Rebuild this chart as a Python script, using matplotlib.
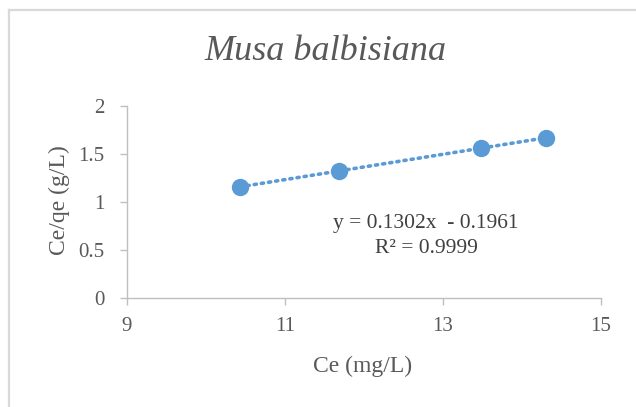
import numpy as np
import matplotlib.pyplot as plt
from matplotlib.lines import Line2D

# data
ce = [10.43, 11.68, 13.48, 14.3]        # Ce (mg/L)
ce_qe = [1.16, 1.32, 1.56, 1.67]        # Ce/qe (g/L)
x_ticks = [9, 11, 13, 15]
y_ticks = [0, 0.5, 1, 1.5, 2]
y_tick_labels = ["0", "0.5", "1", "1.5", "2"]
eq_text = "y = 0.1302x  - 0.1961"
r2_text = "R² = 0.9999"

blue = "#5B9BD5"
grey_text = "#595959"
axis_grey = "#BFBFBF"

plt.rcParams['font.family'] = ['Liberation Serif', 'DejaVu Serif']

fig = plt.figure(figsize=(6.36, 4.07), dpi=100)
ax = fig.add_axes([127 / 636, 1 - 298 / 407, (601 - 127) / 636, (298 - 106) / 407])

# outer chart border (only left and top visible in the crop)
fig.add_artist(Line2D([9 / 636, 9 / 636], [0, 1 - 10 / 407], transform=fig.transFigure,
                      color="#D9D9D9", linewidth=1.6))
fig.add_artist(Line2D([9 / 636, 1], [1 - 10 / 407, 1 - 10 / 407], transform=fig.transFigure,
                      color="#D9D9D9", linewidth=1.6))

# linear trendline through the points
slope, intercept = np.polyfit(ce, ce_qe, 1)
xs = np.array([min(ce), max(ce)])
ax.plot(xs, slope * xs + intercept, linestyle=(0, (0.6, 1.4)), color=blue,
        linewidth=2.6, dash_capstyle='round', zorder=2)
ax.plot(ce, ce_qe, 'o', color=blue, markersize=11.5, zorder=3)

ax.set_xlim(9, 15)
ax.set_ylim(0, 2)
ax.set_xticks(x_ticks)
ax.set_yticks(y_ticks)
ax.set_yticklabels(y_tick_labels)

for s in ["top", "right"]:
    ax.spines[s].set_visible(False)
for s in ["left", "bottom"]:
    ax.spines[s].set_color(axis_grey)
    ax.spines[s].set_linewidth(1.0)
ax.tick_params(axis='both', colors=axis_grey, length=5, width=1.0,
               labelsize=15, labelcolor=grey_text)
ax.tick_params(axis='x', pad=9)
ax.tick_params(axis='y', pad=11)

fig.text(325 / 636, 1 - 52 / 407, "Musa balbisiana", ha='center', va='center',
         fontsize=26, style='italic', color=grey_text)
fig.text(363 / 636, 1 - 366 / 407, "Ce (mg/L)", ha='center', va='center',
         fontsize=17, color=grey_text)
fig.text(59 / 636, 1 - 200 / 407, "Ce/qe (g/L)", ha='center', va='center',
         fontsize=17, color=grey_text, rotation=90)

fig.text(426 / 636, 1 - 223 / 407, eq_text, ha='center', va='center',
         fontsize=15.5, color="#404040")
fig.text(426 / 636, 1 - 248 / 407, r2_text, ha='center', va='center',
         fontsize=15.5, color="#404040")

fig.savefig("out.png", dpi=100)
